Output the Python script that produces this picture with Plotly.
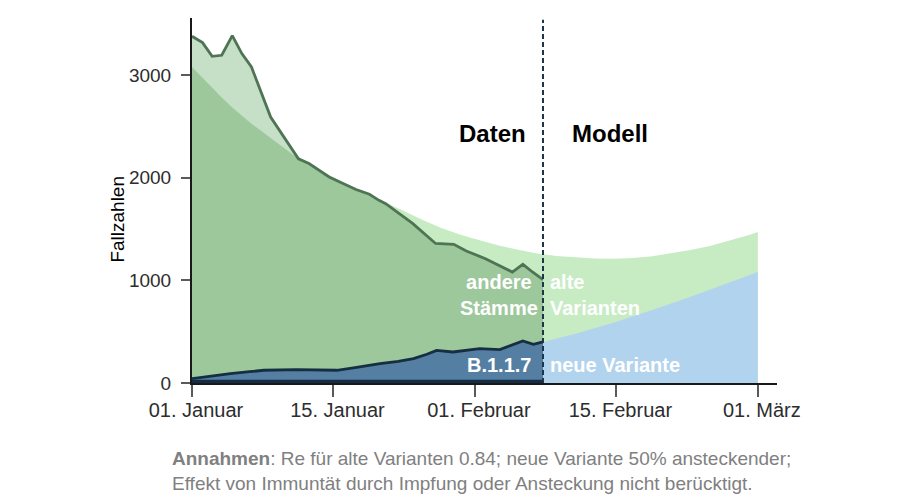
import numpy as np
import plotly.graph_objects as go

# ---- data (x in chart units: days since 1 Jan, ticks equally spaced as in the original) ----
tick_labels = ["01. Januar", "15. Januar", "01. Februar", "15. Februar", "01. März"]
tick_pos = [0, 14.75, 29.5, 44.25, 59]
y_ticks = [0, 1000, 2000, 3000]

split = 36.6  # Daten | Modell

obs_x = [0, 1.1, 2.1, 3.1, 4.2, 5.2, 6.2, 8.2, 11.1, 12.2, 14.3, 17.1, 18.5, 19.5, 20.2,
         23.0, 25.4, 27.3, 28.6, 30.6, 33.4, 34.5, 35.5, 36.6]
obs_total = [3377, 3315, 3182, 3192, 3383, 3208, 3078, 2591, 2183, 2137, 2007, 1884, 1838, 1779, 1747,
             1555, 1359, 1351, 1286, 1211, 1081, 1156, 1081, 1007]

b117_x = [0, 2, 4, 6, 7.5, 10.9, 13, 15.1, 17, 19.6, 21.5, 23.1, 24.5, 25.5, 27.2, 30, 32.1, 34.5, 35.6, 36.6]
b117 = [43, 70, 91, 110, 124, 130, 128, 124, 150, 189, 210, 237, 280, 318, 302, 335, 325, 409, 377, 400]

bottom_x = [0, 36.6]
bottom = [32, 32]

model_x = [0, 2, 4, 6, 8, 10, 12, 14, 16, 18, 20, 22, 24, 26, 28, 30, 32, 34, 36, 38, 40, 42, 44,
           46, 48, 50, 52, 54, 56, 58, 59]
model_total = [3078, 2880, 2700, 2540, 2400, 2270, 2150, 2040, 1940, 1850, 1765, 1680, 1590, 1510,
               1445, 1390, 1340, 1298, 1262, 1238, 1222, 1213, 1211, 1218, 1235, 1262, 1295, 1335,
               1385, 1440, 1471]

new_x = [36.6, 40, 44, 48, 52, 56, 59]
new_variant = [400, 480, 590, 710, 840, 975, 1081]

# ---- colours ----
c_model = "rgb(199,236,196)"
c_obs_above = "rgb(198,223,199)"
c_obs = "rgb(157,200,156)"
c_obs_line = "rgb(78,116,84)"
c_b117 = "rgb(84,127,163)"
c_b117_line = "rgb(22,46,66)"
c_new = "rgb(178,211,238)"
c_bottom = "rgb(22,44,68)"

font = "Liberation Sans, Arial, Helvetica, sans-serif"

obs_min = np.minimum(np.array(obs_total, float), np.interp(obs_x, model_x, model_total))

fig = go.Figure()
fig.add_trace(go.Scatter(x=model_x, y=model_total, fill="tozeroy", fillcolor=c_model,
                         mode="lines", line=dict(width=0), hoverinfo="skip"))
fig.add_trace(go.Scatter(x=obs_x, y=obs_total, fill="tozeroy", fillcolor=c_obs_above,
                         mode="lines", line=dict(width=0), hoverinfo="skip"))
fig.add_trace(go.Scatter(x=obs_x, y=obs_min, fill="tozeroy", fillcolor=c_obs,
                         mode="lines", line=dict(width=0, color=c_obs), hoverinfo="skip"))
fig.add_trace(go.Scatter(x=new_x, y=new_variant, fill="tozeroy", fillcolor=c_new,
                         mode="lines", line=dict(width=0), hoverinfo="skip"))
fig.add_trace(go.Scatter(x=b117_x, y=b117, fill="tozeroy", fillcolor=c_b117,
                         mode="lines", line=dict(width=0), hoverinfo="skip"))
fig.add_trace(go.Scatter(x=bottom_x, y=bottom, fill="tozeroy", fillcolor=c_bottom,
                         mode="lines", line=dict(width=0), hoverinfo="skip"))
fig.add_trace(go.Scatter(x=b117_x, y=b117, mode="lines",
                         line=dict(width=2.8, color=c_b117_line), hoverinfo="skip"))
fig.add_trace(go.Scatter(x=obs_x, y=obs_total, mode="lines",
                         line=dict(width=2.8, color=c_obs_line), hoverinfo="skip"))

fig.add_shape(type="line", xref="x", yref="paper", x0=split, x1=split, y0=0, y1=0.995,
              line=dict(color="rgb(30,52,75)", width=2, dash="5px,3px"))

def lab(x, y, text, anchor, size=20, color="white", bold=True):
    fig.add_annotation(x=x, y=y, xref="x", yref="y", text=f"<b>{text}</b>" if bold else text,
                       showarrow=False, xanchor=anchor, yanchor="middle",
                       align=anchor if anchor != "center" else "center",
                       font=dict(family=font, size=size, color=color))

lab(31.3, 2430, "Daten", "center", size=24, color="black")
lab(43.6, 2430, "Modell", "center", size=24, color="black")
lab(32.0, 854, "andere<br>Stämme", "center")
lab(37.1, 854, "alte<br>Varianten", "left")
lab(32.0, 172, "B.1.1.7", "center")
lab(37.1, 172, "neue Variante", "left")

fig.add_annotation(x=-0.128, y=0.448, xref="paper", yref="paper", text="Fallzahlen", textangle=-90,
                   xanchor="center", yanchor="middle",
                   showarrow=False, font=dict(family=font, size=19, color="black"))
fig.add_annotation(x=-0.0376, y=-0.241, xref="paper", yref="paper", xanchor="left", yanchor="middle",
                   align="left", showarrow=False,
                   text="<b>Annahmen</b>: Re für alte Varianten 0.84; neue Variante 50% ansteckender;<br>"
                        "Effekt von Immuntät durch Impfung oder Ansteckung nicht berücktigt.",
                   font=dict(family=font, size=19, color="rgb(128,128,128)"))

fig.update_layout(
    width=900, height=501, margin=dict(l=192, r=123, t=18, b=118),
    paper_bgcolor="white", plot_bgcolor="white", showlegend=False,
    font=dict(family=font, size=19, color="rgb(45,45,45)"),
)
fig.update_xaxes(range=[0, 61], tickvals=tick_pos, ticktext=tick_labels, showgrid=False, zeroline=False,
                 showline=True, linecolor="rgb(25,25,25)", linewidth=2, ticks="outside", ticklen=12,
                 tickcolor="rgb(90,90,90)", tickwidth=1.5, ticklabelstandoff=-4, ticklabelshift=4,
                 tickfont=dict(family=font, size=20, color="rgb(45,45,45)"))
fig.update_yaxes(range=[0, 3555], tickvals=y_ticks, showgrid=False, zeroline=False,
                 showline=True, linecolor="rgb(25,25,25)", linewidth=2, ticks="outside", ticklen=9,
                 tickcolor="rgb(90,90,90)", tickwidth=1.5, ticklabelstandoff=6,
                 tickfont=dict(family=font, size=19, color="rgb(45,45,45)"))

fig.write_html("out.html")
